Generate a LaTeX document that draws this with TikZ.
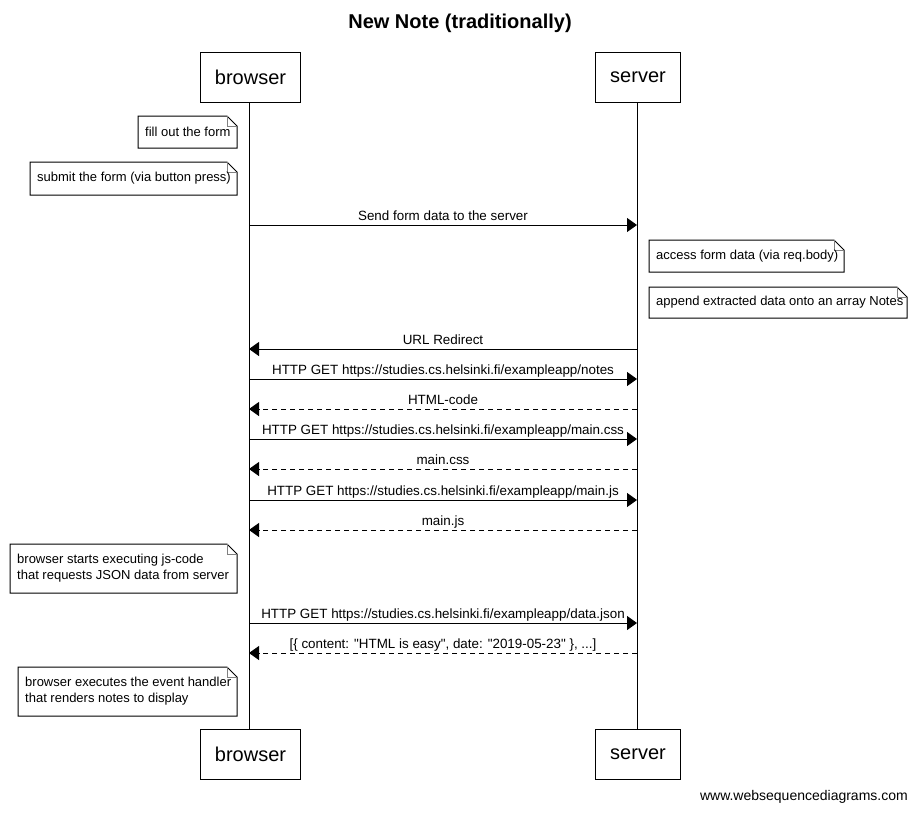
\documentclass[tikz,border=0pt]{standalone}
\usepackage{fontspec}
\setmainfont{Liberation Sans}[Ligatures=TeXOff]
\usetikzlibrary{arrows.meta,calc}
\begin{document}
\begin{tikzpicture}[x=1pt,y=-1pt,
  actor/.style={draw,line width=1pt,minimum width=100pt,minimum height=50pt,anchor=north west,inner sep=0pt,font=\fontsize{20}{24}\selectfont},
  life/.style={line width=1pt},
  msg/.style={line width=1pt,-{Triangle[length=10pt,width=14pt]}},
  ret/.style={msg,dash pattern=on 5pt off 4pt},
  lbl/.style={anchor=base,inner sep=0pt,font=\fontsize{13.4}{15}\selectfont},
  notebody/.style={draw,line width=1pt,fill=white},
  fold/.style={draw,line width=0.8pt,gray},
  notetext/.style={anchor=west,inner sep=0pt,align=left,font=\fontsize{13}{16}\selectfont}
]
\useasboundingbox (0,0) rectangle (917,812);
\fill[white] (0,0) rectangle (917,812);

\node[font=\bfseries\fontsize{20}{24}\selectfont] (title) at (460,23) {New Note (traditionally)};

% participants
\node[actor,minimum width=100pt] (bt) at (200,52) {browser};
\node[actor,minimum width=85pt] (st) at (595,52) {server};
\node[actor,minimum width=100pt] (bb) at (200,729) {browser};
\node[actor,minimum width=85pt] (sb) at (595,729) {server};
\coordinate (bx) at (249,0);
\coordinate (sx) at (637,0);
\draw[life] (bt.south -| bx) -- (bb.north -| bx);
\draw[life] (st.south -| sx) -- (sb.north -| sx);

% note macro
\newcommand{\mynote}[6]{%
  \path[notebody] (#2,#3) -- (#4-10,#3) -- (#4,#3+10) -- (#4,#5) -- (#2,#5) -- cycle;
  \path[fold] (#4-10,#3) -- (#4-10,#3+10) -- (#4,#3+10);
  \node[notetext] (#1) at (#2+7,{(#3+#5)/2}) {#6};}

\mynote{n1}{138}{116}{237}{148}{fill out the form}
\mynote{n2}{30}{162}{237}{195}{submit the form (via button press)}
\mynote{n3}{649}{240}{844}{272}{access form data (via req.body)}
\mynote{n4}{649}{287}{907}{318}{append extracted data onto an array Notes}
\mynote{n5}{10}{544}{237}{593}{browser starts executing js-code\\that requests JSON data from server}
\mynote{n6}{18}{667}{237}{716}{browser executes the event handler\\that renders notes to display}

% messages
\newcommand{\mymsg}[4]{%
  \coordinate (a#1) at (bx |- 0,#2);
  \coordinate (b#1) at (sx |- 0,#2);
  \draw[#3] (a#1) -- (b#1);
  \node[lbl] (l#1) at (443,#2-5) {#4};}
\newcommand{\myret}[4]{%
  \coordinate (a#1) at (bx |- 0,#2);
  \coordinate (b#1) at (sx |- 0,#2);
  \draw[#3] (b#1) -- (a#1);
  \node[lbl] (l#1) at (443,#2-5) {#4};}

\mymsg{1}{225}{msg}{Send form data to the server}
\myret{2}{349}{msg}{URL Redirect}
\mymsg{3}{379}{msg}{HTTP GET https://studies.cs.helsinki.fi/exampleapp/notes}
\myret{4}{409}{ret}{HTML-code}
\mymsg{5}{439}{msg}{HTTP GET https://studies.cs.helsinki.fi/exampleapp/main.css}
\myret{6}{469}{ret}{main.css}
\mymsg{7}{500}{msg}{HTTP GET https://studies.cs.helsinki.fi/exampleapp/main.js}
\myret{8}{530}{ret}{main.js}
\mymsg{9}{623}{msg}{HTTP GET https://studies.cs.helsinki.fi/exampleapp/data.json}
\myret{10}{653}{ret}{[\{ content: "HTML is easy", date: "2019-05-23" \}, ...]}

\node[anchor=east,inner sep=0pt,font=\fontsize{14}{16}\selectfont] (footer) at (908,797) {www.websequencediagrams.com};
\end{tikzpicture}
\end{document}
